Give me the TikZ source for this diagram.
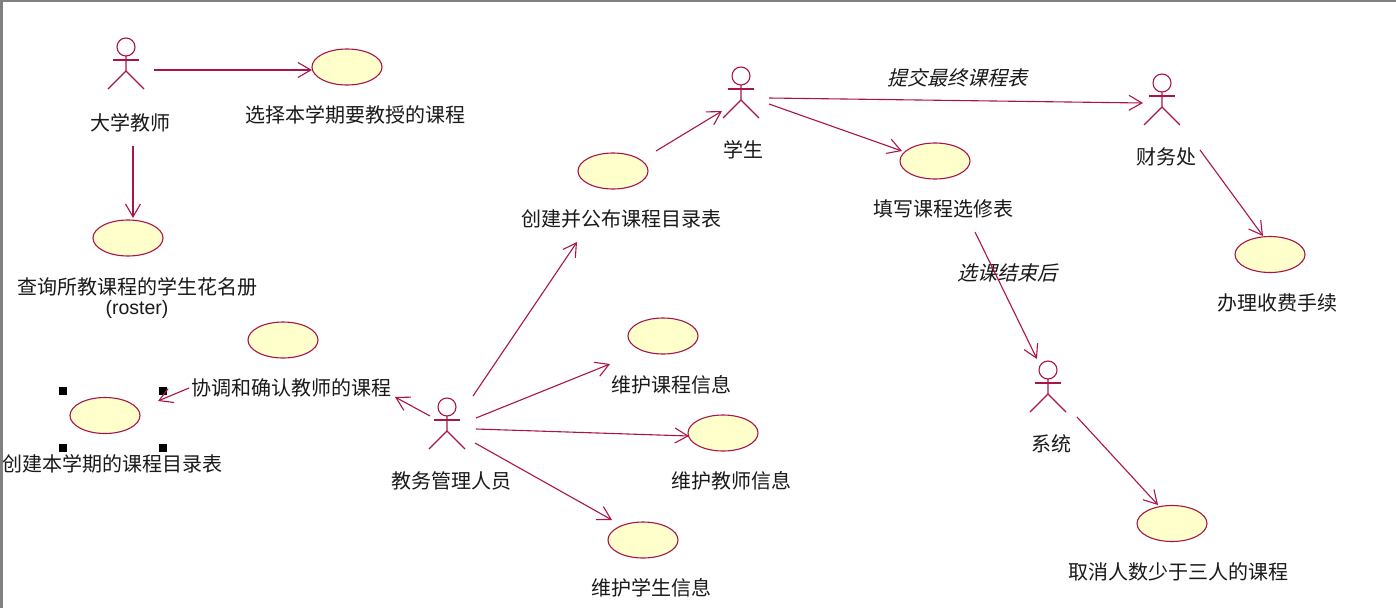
\documentclass[tikz,border=0pt]{standalone}
\usepackage{fontspec}
\setmainfont{Noto Sans CJK SC}
\newfontfamily\cjkslant[FakeSlant=0.25]{Noto Sans CJK SC}
\newfontfamily\latinsans{Liberation Sans}
\usetikzlibrary{arrows.meta,calc,shapes.geometric}
\definecolor{umlred}{RGB}{170,20,75}
\definecolor{umlfill}{RGB}{255,255,203}
\tikzset{
  umlline/.style={draw=umlred,line width=1.1pt},
  assoc/.style={umlline,-{Straight Barb[length=13pt,width=15pt,line width=1.1pt]}},
  usecase/.style={ellipse,draw=umlred,fill=umlfill,line width=1.1pt,minimum width=70pt,minimum height=36pt,inner sep=0pt,outer sep=0pt},
  lbl/.style={font=\fontsize{20}{24}\selectfont,text=black!90,inner sep=0pt,align=center},
  islbl/.style={font=\fontsize{20}{24}\selectfont\cjkslant,text=black!90,inner sep=0pt},
  handle/.style={fill=black,minimum size=7.5pt,inner sep=0pt,outer sep=0pt},
  pin/.style={inner sep=0pt,minimum size=0pt}
}
\newcommand{\umlactor}[3]{%
  \node[pin] (#1) at (#2,#3) {};
  \draw[umlline] (#1) circle[radius=9pt];
  \draw[umlline] ($(#1)+(-13,13)$) -- ++(26,0);
  \draw[umlline] ($(#1)+(0,9)$) -- ++(0,15) -- ++(-18,18);
  \draw[umlline] ($(#1)+(0,24)$) -- ++(18,18);
}
\begin{document}
\begin{tikzpicture}[x=1pt,y=-1pt]
\useasboundingbox (0,0) rectangle (1396,608);
\fill[white] (0,0) rectangle (1396,608);
\fill[black!50] (0,0) rectangle (1396,1.5);
\fill[black!50] (0,0) rectangle (2.5,608);

% selection handles
\node[handle] (h1) at (63,391) {};
\node[handle] (h2) at (163,391) {};
\node[handle] (h3) at (63,448) {};
\node[handle] (h4) at (163,448) {};

% actors
\umlactor{teacher}{126}{47}
\umlactor{student}{741}{76}
\umlactor{finance}{1162}{83}
\umlactor{system}{1048}{370}
\umlactor{admin}{447}{407}

% use cases
\node[usecase] (uc1) at (347,67) {};
\node[usecase] (uc2) at (128,238) {};
\node[usecase] (uc3) at (283,340) {};
\node[usecase] (uc4) at (105,415.5) {};
\node[usecase] (uc5) at (613,171) {};
\node[usecase] (uc6) at (663,336) {};
\node[usecase] (uc7) at (723,433) {};
\node[usecase] (uc8) at (643,540) {};
\node[usecase] (uc9) at (935,161) {};
\node[usecase] (uc10) at (1270,254.5) {};
\node[usecase] (uc11) at (1172,523.5) {};

% labels
\node[lbl] (t1) at (130,122.5) {大学教师};
\node[lbl] (t2) at (355.5,114.5) {选择本学期要教授的课程};
\node[lbl] (t3) at (137,286.5) {查询所教课程的学生花名册};
\node[lbl] (t3b) at (137,309.5) {\latinsans\fontsize{19.5}{22}\selectfont (roster)};
\node[lbl] (t4) at (291,388) {协调和确认教师的课程};
\node[lbl] (t5) at (112,464) {创建本学期的课程目录表};
\node[lbl] (t6) at (451,481) {教务管理人员};
\node[lbl] (t7) at (621,218.5) {创建并公布课程目录表};
\node[lbl] (t8) at (671,384.5) {维护课程信息};
\node[lbl] (t9) at (731,481) {维护教师信息};
\node[lbl] (t10) at (651,588) {维护学生信息};
\node[lbl] (t11) at (743,150) {学生};
\node[lbl] (t12) at (943,208.5) {填写课程选修表};
\node[lbl] (t13) at (1166,157) {财务处};
\node[lbl] (t14) at (1277.5,303) {办理收费手续};
\node[lbl] (t15) at (1051,444) {系统};
\node[lbl] (t16) at (1178,571.5) {取消人数少于三人的课程};
\node[islbl] (t17) at (957,78) {提交最终课程表};
\node[islbl] (t18) at (1007,273) {选课结束后};

% connector ends
\coordinate (a1) at (154,70);   \coordinate (b1) at (312,70);
\coordinate (a2) at (133,146);  \coordinate (b2) at (133,218);
\coordinate (a3) at (656,151);  \coordinate (b3) at (722,111);
\coordinate (a4) at (769,98);   \coordinate (b4) at (1143,103);
\coordinate (a5) at (769,104);  \coordinate (b5) at (902,151);
\coordinate (a6) at (473,396);  \coordinate (b6) at (577,242);
\coordinate (a7) at (476,418);  \coordinate (b7) at (610,364);
\coordinate (a8) at (476,429);  \coordinate (b8) at (689,436);
\coordinate (a9) at (475,443);  \coordinate (b9) at (612,520);
\coordinate (a10) at (430,416); \coordinate (b10) at (395,397);
\coordinate (a11) at (189,388); \coordinate (b11) at (158,401);
\coordinate (a12) at (975,232); \coordinate (b12) at (1037,359);
\coordinate (a13) at (1200,150);\coordinate (b13) at (1263,236);
\coordinate (a14) at (1077,417);\coordinate (b14) at (1158,505);

\foreach \i in {1,...,14} \draw[assoc] (a\i) -- (b\i);
\end{tikzpicture}
\end{document}
